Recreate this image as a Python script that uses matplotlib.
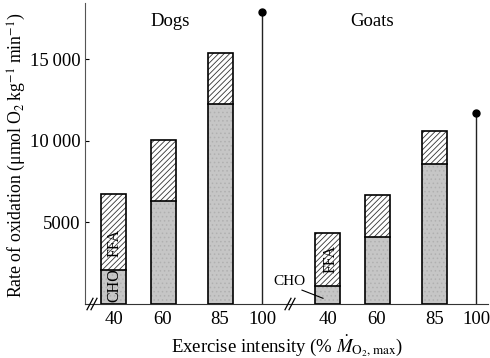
import matplotlib
matplotlib.use("Agg")
import matplotlib.pyplot as plt

plt.rcParams['font.family'] = ['Liberation Serif', 'DejaVu Serif']
plt.rcParams['mathtext.fontset'] = 'stix'
plt.rcParams['hatch.linewidth'] = 0.6

# Data
dogs_labels = ['40', '60', '85', '100']
dogs_total = [6770, 10060, 15370]
dogs_cho = [2070, 6340, 12260]
dogs_max = 17870
goats_labels = ['40', '60', '85', '100']
goats_total = [4330, 6700, 10610]
goats_cho = [1100, 4090, 8600]
goats_max = 11710
yticks = [5000, 10000, 15000]
ytick_labels = ['5000', '10\u2009000', '15\u2009000']

# Layout positions (axis units)
dogs_x = [113.5, 163, 220, 262]
goats_x = [327.5, 377, 434.5, 476]
bw = 25

fig = plt.figure(figsize=(4.9, 3.58), dpi=100)
ax = fig.add_axes([85/490, 54/358, (488-85)/490, (304-3)/358])
ax.set_xlim(85, 488)
ax.set_ylim(0, 18450)

gray = '#c6c6c6'
for xs, tot, cho in [(dogs_x, dogs_total, dogs_cho), (goats_x, goats_total, goats_cho)]:
    for x, t, c in zip(xs[:3], tot, cho):
        ax.bar(x, c, width=bw, color=gray, edgecolor='#b0b0b0', hatch='....',
               linewidth=0.0, zorder=2)
        ax.bar(x, t - c, bottom=c, width=bw, facecolor='white', edgecolor='#333333',
               hatch='//////', linewidth=0.0, zorder=2)
        ax.plot([x - bw/2, x + bw/2], [c, c], color='black', lw=1.2, zorder=3)
        ax.bar(x, t, width=bw, fill=False, edgecolor='black', linewidth=1.2, zorder=3)

# max lines
for x, m in [(dogs_x[3], dogs_max), (goats_x[3], goats_max)]:
    ax.plot([x, x], [0, m], color='#222222', lw=1.0, zorder=2)
    ax.plot(x, m, 'o', color='black', ms=5, zorder=3)

ax.set_xticks(dogs_x + goats_x)
ax.set_xticklabels(dogs_labels + goats_labels, fontsize=13.5)
ax.set_yticks(yticks)
ax.set_yticklabels(ytick_labels, fontsize=13.5)
ax.tick_params(axis='x', length=0, pad=5)
ax.tick_params(axis='y', direction='in', length=3, pad=3)
for s in ['top', 'right']:
    ax.spines[s].set_visible(False)
ax.spines['left'].set_color('#555555')
ax.spines['bottom'].set_color('#333333')

# break marks
for bx in [92, 290]:
    for dx in [-2, 2]:
        ax.plot([bx + dx - 3, bx + dx + 3], [-350, 350], color='black', lw=0.9,
                clip_on=False, zorder=4)

ax.text(170, 17300, 'Dogs', ha='center', va='center', fontsize=13.5)
ax.text(372, 17300, 'Goats', ha='center', va='center', fontsize=13.5)
ax.text(dogs_x[0] + 1, 3750, 'FFA', rotation=90, ha='center', va='center', fontsize=11.5)
ax.text(dogs_x[0] + 1, 1150, 'CHO', rotation=90, ha='center', va='center', fontsize=11.5)
ax.text(goats_x[0] + 3, 2750, 'FFA', rotation=90, ha='center', va='center', fontsize=11.5)
ax.text(289, 1350, 'CHO', ha='center', va='center', fontsize=11)
ax.plot([302, 323], [850, 350], color='black', lw=0.8, zorder=4)

fig.text(17/490, 1 - 155/358, 'Rate of oxidation (μmol\u2009O$_2$\u2009kg$^{-1}$\u2009min$^{-1}$)',
         rotation=90, ha='center', va='center', fontsize=12.8)
ax.set_xlabel('Exercise intensity (% $\\dot{M}_{\\mathrm{O_2,max}}$)', fontsize=13.5, labelpad=4)

fig.savefig('out.png', dpi=100)
